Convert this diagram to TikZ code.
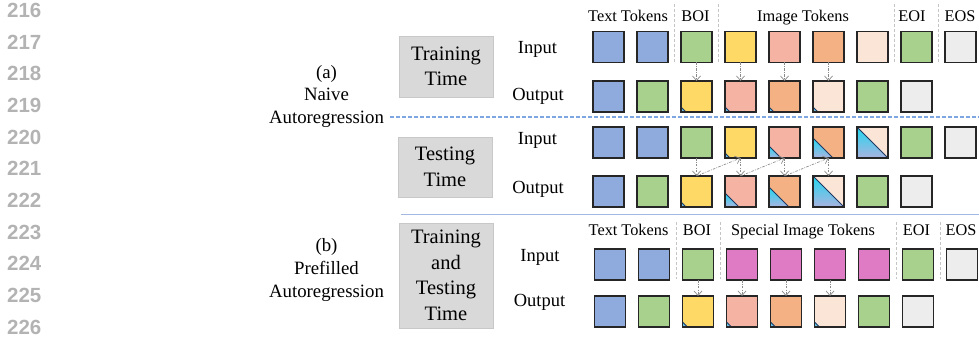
\documentclass[tikz,border=0pt]{standalone}
\usepackage{fontspec}
\setmainfont{Liberation Serif}
\newfontfamily\numfont{Liberation Sans}
\usetikzlibrary{arrows.meta,calc}

\definecolor{tokblue}{HTML}{8FAADC}
\definecolor{tokgreen}{HTML}{A9D18E}
\definecolor{tokyellow}{HTML}{FFD966}
\definecolor{tokpink}{HTML}{F5B4A3}
\definecolor{tokorange}{HTML}{F4B183}
\definecolor{toklight}{HTML}{FBE5D6}
\definecolor{tokgray}{HTML}{EDEDED}
\definecolor{tokmagenta}{HTML}{DF7BC4}
\definecolor{tricyan}{HTML}{22D8F0}
\definecolor{trilav}{HTML}{A9B3E0}
\definecolor{triedgecol}{HTML}{1F3864}
\definecolor{boxgray}{HTML}{D9D9D9}
\definecolor{boxline}{HTML}{C8C8C8}
\definecolor{linenum}{HTML}{B3B3B3}
\definecolor{sepblue}{HTML}{7EA6E0}
\definecolor{solidblue}{HTML}{A4B8E4}
\definecolor{arrgray}{HTML}{8A8A8A}
\definecolor{divgray}{HTML}{C4C4C4}

\tikzset{
  tok/.style={draw=black!85, line width=1.2pt, minimum size=31pt, inner sep=0pt, outer sep=0pt},
  tokline/.style={draw=black!85, line width=1.2pt},
  triedge/.style={draw=triedgecol, line width=0.9pt},
  phase/.style={draw=boxline, line width=0.5pt, fill=boxgray, inner sep=0pt, outer sep=0pt,
    minimum width=94pt, align=center, font=\fontsize{20.5}{25.5}\selectfont},
  rowlbl/.style={anchor=base, inner sep=0pt, font=\fontsize{18.5}{22}\selectfont},
  hdr/.style={anchor=base, inner sep=0pt, font=\fontsize{16.3}{19}\selectfont},
  sidelbl/.style={align=center, inner sep=0pt, font=\fontsize{18.8}{22.7}\selectfont},
  lnum/.style={anchor=base west, inner sep=0pt, text=linenum, font=\numfont\bfseries\fontsize{20.5}{24}\selectfont},
  flow/.style={draw=arrgray, line width=0.7pt,
    dash pattern=on 2.5pt off 1.3pt on 0.8pt off 1.3pt,
    -{Straight Barb[length=4.5pt,width=8pt]}},
  divider/.style={draw=divgray, line width=0.7pt, dash pattern=on 3pt off 2pt},
}

% token square: name, x, y, fill colour, size of the shaded corner (0 = none)
\newcommand{\tkn}[5]{%
  \node[tok, fill=#4] (#1) at ({#2},{#3}) {};
  \ifdim #5pt>0pt
    \shade[top color=tricyan, bottom color=trilav]
      (#1.south west) -- ++(0,-#5) -- ++(#5,#5) -- cycle;
    \draw[triedge] ($(#1.south west)+(0,-#5)$) -- ++(#5,#5);
    \draw[tokline] (#1.south west) rectangle (#1.north east);
  \fi}

\begin{document}
\begin{tikzpicture}[x=1pt,y=-1pt]
\useasboundingbox (0,0) rectangle (979,337);

% line numbers
\foreach \n [count=\i from 0] in {216,...,226}
  \node[lnum] (ln\n) at ({7},{17.5+31.65*\i}) {\n};

% method labels
\node[sidelbl] (labA) at (326.5,96.3) {(a)\\Naive\\Autoregression};
\node[sidelbl] (labB) at (326.5,270) {(b)\\Prefilled\\Autoregression};

% phase boxes
\node[phase, minimum height=61pt] (trainbox) at (446,66.5) {Training\\Time};
\node[phase, minimum height=60pt] (testbox) at (445,167) {Testing\\Time};
\node[phase, minimum height=105pt] (bothbox) at (446,275.5) {Training\\and\\Testing\\Time};

% separators
\draw[draw=sepblue, line width=1.1pt, dash pattern=on 4pt off 2pt] (390,117) -- (979,117);
\draw[draw=solidblue, line width=1.4pt] (401,214.5) -- (979,214.5);

% row labels
\node[rowlbl] (in1) at (537.5,53) {Input};
\node[rowlbl] (out1) at (538,100.5) {Output};
\node[rowlbl] (in2) at (537.5,144) {Input};
\node[rowlbl] (out2) at (538,193.5) {Output};
\node[rowlbl] (in3) at (540,261) {Input};
\node[rowlbl] (out3) at (539.5,306.5) {Output};

% headers, part (a)
\node[hdr] (h1text) at (628,22) {Text Tokens};
\node[hdr] (h1boi) at (695.5,22) {BOI};
\node[hdr] (h1img) at (803,22) {Image Tokens};
\node[hdr] (h1eoi) at (912,22) {EOI};
\node[hdr] (h1eos) at (960,22) {EOS};
\draw[divider] (674.5,4) -- (674.5,62);
\draw[divider] (718.5,4) -- (718.5,62);
\draw[divider] (894.5,4) -- (894.5,62);
\draw[divider] (938.5,4) -- (938.5,62);

% headers, part (b)
\node[hdr] (h3text) at (628.5,235) {Text Tokens};
\node[hdr] (h3boi) at (697,235) {BOI};
\node[hdr] (h3img) at (803,235) {Special Image Tokens};
\node[hdr] (h3eoi) at (916.5,235) {EOI};
\node[hdr] (h3eos) at (961,235) {EOS};
\draw[divider] (676,222) -- (676,279);
\draw[divider] (720,222) -- (720,279);
\draw[divider] (896,222) -- (896,279);
\draw[divider] (940,222) -- (940,279);

% (a) training: input and output
\foreach \c [count=\k] in {tokblue,tokblue,tokgreen,tokyellow,tokpink,tokorange,toklight,tokgreen,tokgray}
  {\tkn{r1i\k}{608.5+44*(\k-1)}{47}{\c}{0}}
\foreach \c/\t [count=\k] in {tokblue/0,tokgreen/0,tokyellow/5,tokpink/5,tokorange/5,toklight/5,tokgreen/0,tokgray/0}
  {\tkn{r1o\k}{608.5+44*(\k-1)}{96.5}{\c}{\t}}

% (a) testing: input and output
\foreach \c/\t [count=\k] in {tokblue/0,tokblue/0,tokgreen/0,tokyellow/5,tokpink/12,tokorange/20,toklight/31,tokgreen/0,tokgray/0}
  {\tkn{r2i\k}{608.5+44*(\k-1)}{142.5}{\c}{\t}}
\foreach \c/\t [count=\k] in {tokblue/0,tokgreen/0,tokyellow/5,tokpink/14,tokorange/20,toklight/31,tokgreen/0,tokgray/0}
  {\tkn{r2o\k}{608.5+44*(\k-1)}{191.5}{\c}{\t}}

% (b) training and testing: input and output
\foreach \c [count=\k] in {tokblue,tokblue,tokgreen,tokmagenta,tokmagenta,tokmagenta,tokmagenta,tokgreen,tokgray}
  {\tkn{r3i\k}{610+44*(\k-1)}{264.5}{\c}{0}}
\foreach \c/\t [count=\k] in {tokblue/0,tokgreen/0,tokyellow/5,tokpink/5,tokorange/5,toklight/5,tokgreen/0,tokgray/0}
  {\tkn{r3o\k}{610+44*(\k-1)}{311.5}{\c}{\t}}

% prediction arrows
\foreach \k in {3,...,6} {
  \draw[flow] (r1i\k.south) -- (r1o\k.north);
  \draw[flow] (r2i\k.south) -- (r2o\k.north);
  \draw[flow] (r3i\k.south) -- (r3o\k.north);
}
% outputs fed back as the next inputs
\foreach \k [evaluate=\k as \n using int(\k+1)] in {3,4,5}
  \draw[flow] (r2o\k.north) -- (r2i\n.south);

\end{tikzpicture}
\end{document}
